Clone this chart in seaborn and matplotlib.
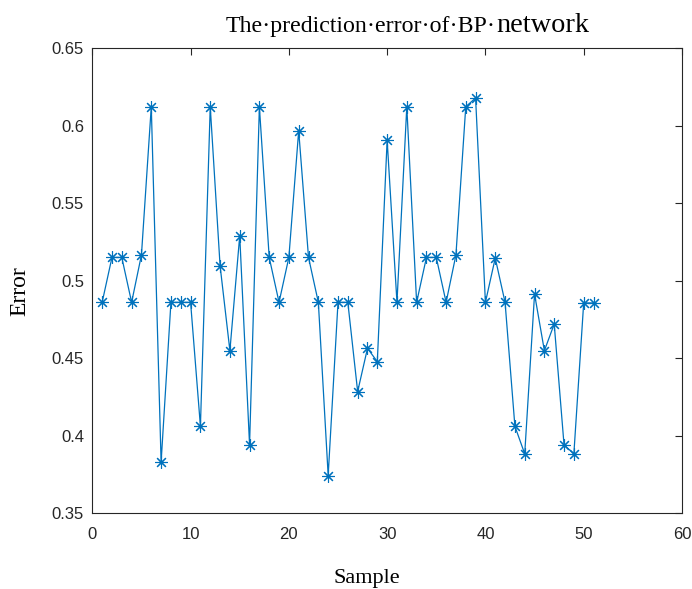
import matplotlib
matplotlib.use("Agg")
import matplotlib.pyplot as plt
import seaborn as sns
import pandas as pd

samples = list(range(1, 52))
errors = [0.486, 0.515, 0.515, 0.486, 0.5166, 0.6123, 0.3828, 0.486, 0.486, 0.486,
          0.406, 0.6123, 0.5097, 0.4548, 0.529, 0.394, 0.6123, 0.515, 0.486, 0.515,
          0.5968, 0.515, 0.486, 0.3742, 0.486, 0.486, 0.4284, 0.4563, 0.4477, 0.5908,
          0.486, 0.6123, 0.486, 0.515, 0.515, 0.486, 0.5166, 0.6123, 0.6179, 0.486,
          0.5146, 0.486, 0.406, 0.3882, 0.4914, 0.4548, 0.472, 0.394, 0.3882, 0.4856,
          0.4856]
title_a = "The·prediction·error·of·BP·"
title_b = "network"
x_label = "Sample"
y_label = "Error"
x_ticks = [0, 10, 20, 30, 40, 50, 60]
y_ticks = [0.35, 0.4, 0.45, 0.5, 0.55, 0.6, 0.65]
y_tick_labels = ["0.35", "0.4", "0.45", "0.5", "0.55", "0.6", "0.65"]

df = pd.DataFrame({"Sample": samples, "Error": errors})

sns.set_theme(style="white")
plt.rcParams['font.family'] = ['Liberation Sans', 'DejaVu Sans']

fig = plt.figure(figsize=(6.92, 5.89), dpi=100)
ax = fig.add_axes([0.1334, 0.129, 0.9855 - 0.1334, 0.918 - 0.129])

color = "#0072BD"
sns.lineplot(data=df, x="Sample", y="Error", ax=ax, color=color, linewidth=0.9,
             marker=(8, 2, 0), markersize=9, markeredgecolor=color,
             markeredgewidth=0.8, markerfacecolor="none")

ax.set_xlim(0, 60)
ax.set_ylim(0.35, 0.65)
ax.set_xticks(x_ticks)
ax.set_yticks(y_ticks)
ax.set_xticklabels([str(t) for t in x_ticks])
ax.set_yticklabels(y_tick_labels)
ax.tick_params(direction="in", top=True, right=True, length=5, width=0.8,
               colors="#262626", labelsize=12)
ax.tick_params(axis="x", pad=10)
ax.tick_params(axis="y", pad=6)
for s in ax.spines.values():
    s.set_color("#262626")
    s.set_linewidth(0.8)

ax.set_xlabel("")
ax.set_ylabel("")
serif = ['Liberation Serif', 'DejaVu Serif']
fig.text(367 / 692, 1 - 583 / 589, x_label, ha="center", va="baseline",
         fontsize=16, family=serif, color="black")
fig.text(20 / 692, 1 - 291 / 589, y_label, ha="center", va="center",
         fontsize=17, family=serif, rotation=90, color="black")

t1 = fig.text(226 / 692, 1 - 32 / 589, title_a, ha="left", va="baseline",
              fontsize=17.2, family=serif, color="black")
fig.canvas.draw()
bb = t1.get_window_extent(renderer=fig.canvas.get_renderer())
x_end = bb.x1 / fig.bbox.width
fig.text(x_end, 1 - 32 / 589, title_b, ha="left", va="baseline",
         fontsize=20.4, family=serif, color="black")

fig.savefig("out.png", dpi=100, facecolor="white")
